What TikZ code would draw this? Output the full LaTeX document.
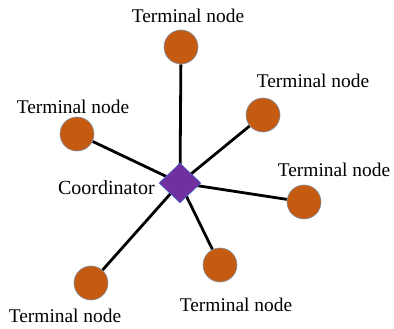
\documentclass[tikz,border=0pt]{standalone}
\usepackage{fontspec}
\setmainfont{Liberation Serif}
\usetikzlibrary{shapes.geometric,backgrounds}
\definecolor{termfill}{HTML}{C55A11}
\definecolor{termdraw}{HTML}{7F8FA6}
\definecolor{coordfill}{HTML}{7030A0}
\definecolor{coorddraw}{HTML}{4472C4}
\tikzset{
  terminal/.style={circle,fill=termfill,draw=termdraw,line width=0.6pt,minimum size=34pt,inner sep=0pt},
  coordnode/.style={diamond,fill=coordfill,draw=coorddraw,line width=0.5pt,minimum width=42pt,minimum height=40pt,inner sep=0pt},
  lbl/.style={font=\fontsize{19.4pt}{21pt}\selectfont,inner sep=0pt},
  link/.style={line width=2.8pt,black}
}
\begin{document}
\begin{tikzpicture}[x=1pt,y=-1pt]
\useasboundingbox (0,0) rectangle (394,329);
\node[coordnode] (c) at (180,183) {};
\node[terminal] (t1) at (181,47) {};
\node[terminal] (t2) at (263,115) {};
\node[terminal] (t3) at (77,134) {};
\node[terminal] (t4) at (304,202) {};
\node[terminal] (t5) at (220,265) {};
\node[terminal] (t6) at (91,283) {};
\node[lbl] (l1) at (188,16) {Terminal node};
\node[lbl] (l2) at (313,81) {Terminal node};
\node[lbl] (l3) at (73,107) {Terminal node};
\node[lbl] (l4) at (334,170) {Terminal node};
\node[lbl] (l5) at (236,305) {Terminal node};
\node[lbl] (l6) at (65,316) {Terminal node};
\node[lbl,font=\fontsize{20pt}{22pt}\selectfont,anchor=east] (lc) at (155,188) {Coordinator};
\begin{pgfonlayer}{background}
\foreach \t in {t1,t2,t3,t4,t5,t6} \draw[link] (\t) -- (c.center);
\end{pgfonlayer}
\end{tikzpicture}
\end{document}
